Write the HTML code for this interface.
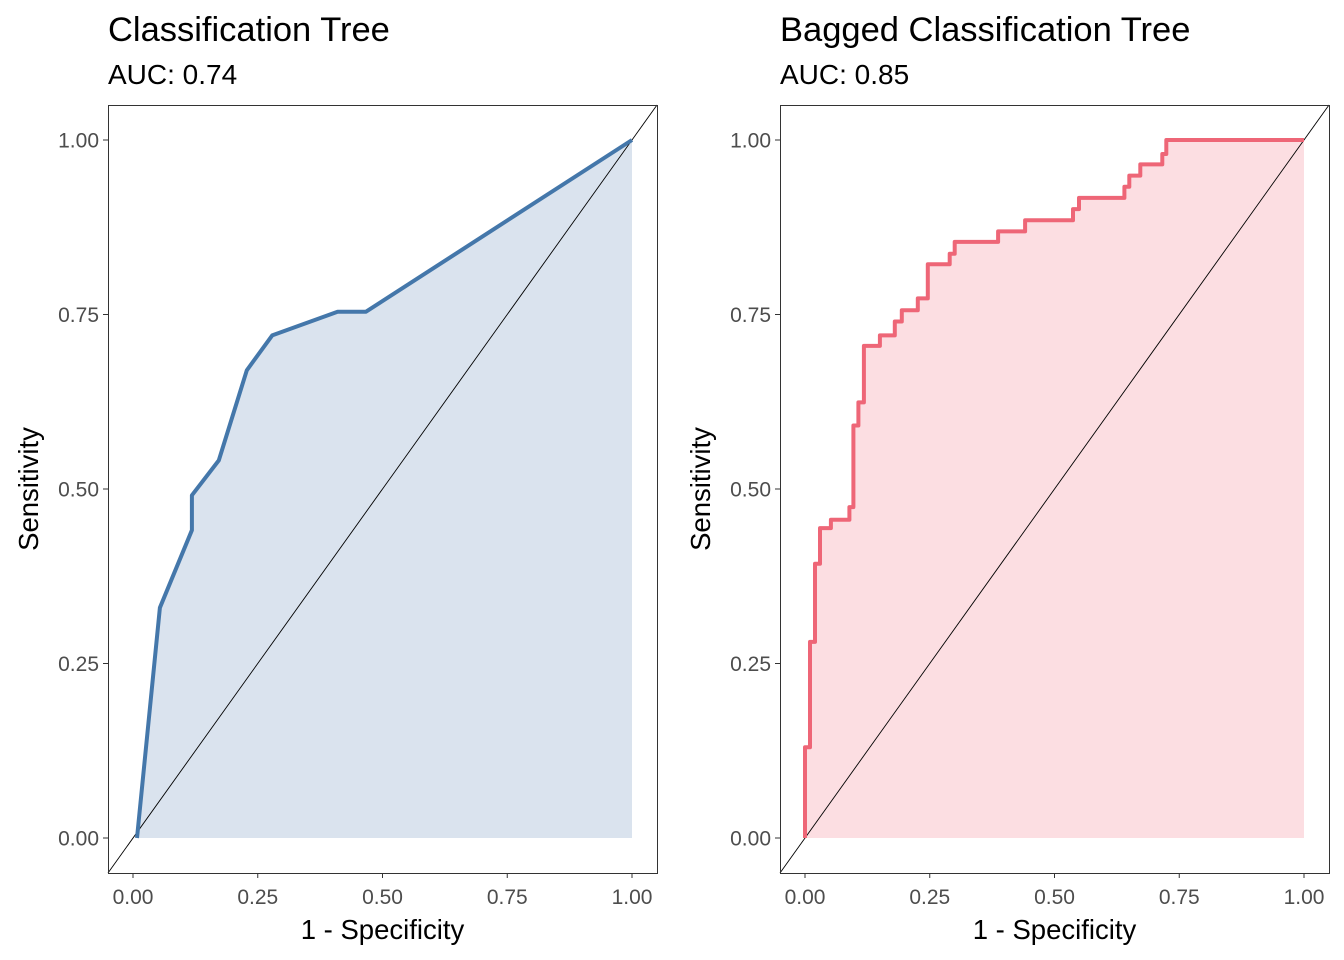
<!DOCTYPE html>
<html><head><meta charset="utf-8"><style>
html,body{margin:0;padding:0;background:#fff;}
svg{display:block;font-family:"Liberation Sans",Arial,sans-serif;}
</style></head><body>
<svg id="c" width="1344" height="960" xmlns="http://www.w3.org/2000/svg"></svg>
<script>
// Classification Tree ROC
const treeFpr = [0.008, 0.054, 0.118, 0.118, 0.172, 0.228, 0.279, 0.41, 0.467, 1.0];
const treeTpr = [0.0, 0.33, 0.441, 0.491, 0.541, 0.67, 0.72, 0.754, 0.754, 1.0];
// Bagged tree ROC (step points)
const bagFpr = [0,0.01,0.02,0.03,0.052,0.089,0.097,0.107,0.118,0.15,0.18,0.194,0.226,0.246,0.29,0.3,0.387,0.441,0.537,0.549,0.64,0.65,0.672,0.716,0.724,1.0];
const bagTpr = [0,0.13,0.281,0.393,0.444,0.456,0.474,0.591,0.624,0.705,0.72,0.74,0.756,0.773,0.822,0.837,0.854,0.869,0.885,0.901,0.917,0.933,0.949,0.965,0.98,1.0];
const ticks = [0, 0.25, 0.5, 0.75, 1];
const tickLabels = ["0.00","0.25","0.50","0.75","1.00"];
const panels = [
 {name:"classification-tree", title:"Classification Tree", sub:"AUC: 0.74", left:108, fpr:treeFpr, tpr:treeTpr, step:false, line:"#4477aa", fill:"#dae3ee"},
 {name:"bagged-tree", title:"Bagged Classification Tree", sub:"AUC: 0.85", left:780, fpr:bagFpr, tpr:bagTpr, step:true, line:"#ee6677", fill:"#fcdee2"}
];
const svg = document.getElementById('c');
const NS = "http://www.w3.org/2000/svg";
function mk(tag, attrs, parent){const e=document.createElementNS(NS,tag);for(const k in attrs)e.setAttribute(k,attrs[k]);(parent||svg).appendChild(e);return e;}
panels.forEach(p=>{
  const L=p.left, R=L+549, T=105, B=873;
  const sx=v=>L+25+v*499, sy=v=>838-v*698;
  const g=mk('g',{});
  
  
  let pts=[];
  for(let i=0;i<p.fpr.length;i++){
    if(p.step&&i>0) pts.push([sx(p.fpr[i-1]),sy(p.tpr[i])]);
    pts.push([sx(p.fpr[i]),sy(p.tpr[i])]);
  }
  const ps=pts.map(q=>q[0].toFixed(1)+','+q[1].toFixed(1)).join(' ');
  const area=mk('polygon',{points:ps+' '+sx(1)+','+sy(0)+' '+sx(p.fpr[0])+','+sy(0),fill:p.fill},g);
  
  
  const diag=mk('line',{x1:L,y1:B,x2:R,y2:T,stroke:'#000','stroke-width':0.9},g);
  
  
  const ln=mk('polyline',{points:ps,fill:'none',stroke:p.line,'stroke-width':4,'stroke-linejoin':'round'},g);
  
  
  const box=mk('rect',{x:L+0.5,y:T+0.5,width:549,height:768,fill:'none',stroke:'#333','stroke-width':1},g);
  
  
  ticks.forEach((t,i)=>{
    mk('line',{x1:L-5,x2:L,y1:sy(t),y2:sy(t),stroke:'#333','stroke-width':1},g);
    const yl=mk('text',{x:L-9,y:sy(t)+7.5,'text-anchor':'end','font-size':21,fill:'#4d4d4d'},g);
    yl.textContent=tickLabels[i];
    
    
    mk('line',{x1:sx(t),x2:sx(t),y1:B,y2:B+5,stroke:'#333','stroke-width':1},g);
    const xl=mk('text',{x:sx(t),y:904,'text-anchor':'middle','font-size':21,fill:'#4d4d4d'},g);
    xl.textContent=tickLabels[i];
    
    
  });
  const tt=mk('text',{x:L,y:41,'font-size':34.5,fill:'#000'},g);
  tt.textContent=p.title;
  
  
  const st=mk('text',{x:L,y:84,'font-size':28,fill:'#000'},g);
  st.textContent=p.sub;
  
  
  const xt=mk('text',{x:L+25+249.5,y:939,'text-anchor':'middle','font-size':27.5,fill:'#000'},g);
  xt.textContent='1 - Specificity';
  
  
  const yx=L-70, yy=489;
  const yt=mk('text',{x:yx,y:yy,'text-anchor':'middle','font-size':27.5,fill:'#000',transform:'rotate(-90 '+yx+' '+yy+')'},g);
  yt.textContent='Sensitivity';
  
  
});
</script>
</body></html>
